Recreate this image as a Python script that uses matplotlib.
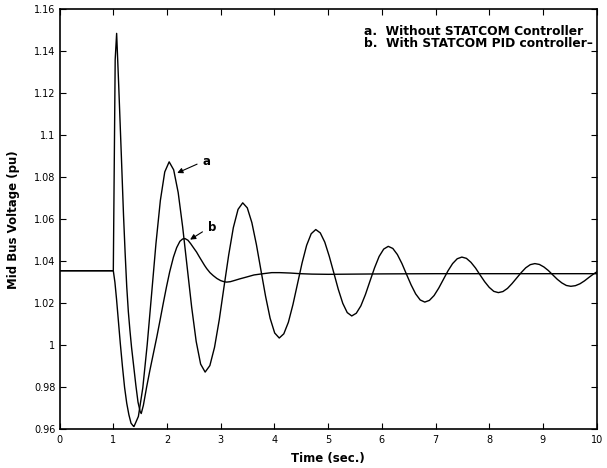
import matplotlib
matplotlib.use("Agg")
import matplotlib.pyplot as plt

plt.rcParams['font.family'] = ['DejaVu Sans']

# ---- data ----
# a. Without STATCOM Controller
t_a = [0.0, 1.0, 1.03, 1.06, 1.09, 1.13, 1.17, 1.21, 1.25, 1.29, 1.33, 1.37, 1.385,
       1.467, 1.549, 1.631, 1.713, 1.794, 1.876, 1.958, 2.04,
       2.124, 2.208, 2.291, 2.375, 2.459, 2.543, 2.626, 2.71,
       2.798, 2.885, 2.973, 3.06, 3.148, 3.235, 3.323, 3.41,
       3.495, 3.58, 3.665, 3.75, 3.835, 3.92, 4.005, 4.09,
       4.175, 4.26, 4.345, 4.43, 4.515, 4.60, 4.685, 4.77,
       4.854, 4.938, 5.021, 5.105, 5.189, 5.273, 5.356, 5.44,
       5.525, 5.61, 5.695, 5.78, 5.865, 5.95, 6.035, 6.12,
       6.205, 6.29, 6.375, 6.46, 6.545, 6.63, 6.715, 6.80,
       6.886, 6.973, 7.059, 7.145, 7.231, 7.318, 7.404, 7.49,
       7.575, 7.66, 7.745, 7.83, 7.915, 8.0, 8.085, 8.17,
       8.255, 8.34, 8.425, 8.51, 8.595, 8.68, 8.765, 8.85,
       8.934, 9.018, 9.101, 9.185, 9.269, 9.353, 9.436, 9.52,
       9.605, 9.69, 9.775, 9.86, 9.945, 10.0]
v_a = [1.0355, 1.0355, 1.030, 1.022, 1.013, 1.001, 0.990, 0.980, 0.9725, 0.967, 0.963, 0.9617, 0.9614,
       0.9662, 0.9798, 1.0003, 1.0244, 1.0484, 1.0689, 1.0825, 1.0873,
       1.0835, 1.0727, 1.0564, 1.0373, 1.0182, 1.0019, 0.9911, 0.9873,
       0.9904, 0.9991, 1.0122, 1.0276, 1.0429, 1.0560, 1.0647, 1.0678,
       1.0654, 1.0584, 1.0479, 1.0356, 1.0234, 1.0129, 1.0059, 1.0035,
       1.0055, 1.0110, 1.0194, 1.0293, 1.0392, 1.0476, 1.0531, 1.0551,
       1.0535, 1.0491, 1.0424, 1.0346, 1.0267, 1.0200, 1.0156, 1.0140,
       1.0153, 1.0188, 1.0242, 1.0306, 1.0369, 1.0423, 1.0458, 1.0471,
       1.0461, 1.0432, 1.0389, 1.0338, 1.0288, 1.0245, 1.0216, 1.0206,
       1.0214, 1.0237, 1.0272, 1.0313, 1.0354, 1.0389, 1.0412, 1.0420,
       1.0414, 1.0395, 1.0368, 1.0335, 1.0303, 1.0276, 1.0257, 1.0251,
       1.0256, 1.0271, 1.0294, 1.0320, 1.0346, 1.0369, 1.0384, 1.0389,
       1.0385, 1.0373, 1.0356, 1.0335, 1.0314, 1.0297, 1.0285, 1.0281,
       1.0284, 1.0293, 1.0307, 1.0324, 1.0340, 1.0349]

# b. With STATCOM PID controller
t_b = [0.0, 1.0, 1.035, 1.062, 1.10, 1.15, 1.19, 1.22, 1.25, 1.28, 1.31, 1.34, 1.38,
       1.42, 1.46, 1.50, 1.52, 1.56, 1.62, 1.68, 1.745, 1.81, 1.87, 1.93, 1.99,
       2.05, 2.12, 2.18, 2.24, 2.29, 2.335, 2.39, 2.44, 2.50, 2.55, 2.60, 2.65,
       2.70, 2.74, 2.80, 2.86, 2.93, 3.00, 3.06, 3.11, 3.18, 3.26, 3.35, 3.48,
       3.62, 3.79, 3.95, 4.10, 4.30, 4.48, 4.70, 5.0, 5.5, 6.0, 7.0, 8.0, 9.0, 10.0]
v_b = [1.0355, 1.0355, 1.136, 1.1484, 1.124, 1.090, 1.062, 1.044, 1.028, 1.016, 1.007, 0.999, 0.990,
       0.981, 0.973, 0.9685, 0.9676, 0.9715, 0.9801, 0.988, 0.996, 1.004, 1.0119, 1.020, 1.0278,
       1.035, 1.042, 1.0465, 1.0495, 1.0506, 1.0508, 1.0500, 1.0484, 1.0462, 1.0444, 1.0422, 1.0401,
       1.0380, 1.0365, 1.0346, 1.0332, 1.0318, 1.0308, 1.0303, 1.0301, 1.0303, 1.0309, 1.0316, 1.0325,
       1.0335, 1.0341, 1.0346, 1.0346, 1.0344, 1.0341, 1.0339, 1.0338, 1.0339, 1.0340, 1.0341, 1.0341, 1.0341, 1.0341]

x_ticks = [0, 1, 2, 3, 4, 5, 6, 7, 8, 9, 10]
y_ticks = [0.96, 0.98, 1.0, 1.02, 1.04, 1.06, 1.08, 1.10, 1.12, 1.14, 1.16]
y_tick_labels = ['0.96', '0.98', '1', '1.02', '1.04', '1.06', '1.08', '1.1', '1.12', '1.14', '1.16']
legend_lines = ['a.  Without STATCOM Controller', 'b.  With STATCOM PID controller\u2013']

# ---- figure ----
fig = plt.figure(figsize=(6.07, 4.68), dpi=100)
ax = fig.add_axes([0.0982, 0.0823, 0.8847, 0.8985])

ax.plot(t_a, v_a, color='black', lw=1.0)
ax.plot(t_b, v_b, color='black', lw=1.0)

ax.set_xlim(0, 10)
ax.set_ylim(0.96, 1.16)
ax.set_xticks(x_ticks)
ax.set_xticklabels([str(x) for x in x_ticks])
ax.set_yticks(y_ticks)
ax.set_yticklabels(y_tick_labels)
ax.tick_params(direction='in', length=4, width=0.8, top=True, right=True,
               labelsize=7, pad=3)
ax.tick_params(axis='x', pad=4)
for s in ax.spines.values():
    s.set_linewidth(1.2)

ax.set_xlabel('Time (sec.)', fontsize=8.5, fontweight='bold', labelpad=5)
ax.set_ylabel('Mid Bus Voltage (pu)', fontsize=8.5, fontweight='bold', labelpad=10)

# legend-like text (one two-line text block)
ax.text(0.566, 0.932, '\n'.join(legend_lines), transform=ax.transAxes, fontsize=8.8,
        fontweight='bold', va='center', ha='left', linespacing=0.87)

# curve labels with arrows
arrow_kw = dict(arrowstyle='-|>', color='black', lw=0.8, mutation_scale=8,
                shrinkA=0, shrinkB=0)
ax.annotate('', xy=(2.19, 1.082), xytext=(2.56, 1.0862), arrowprops=arrow_kw)
ax.text(2.74, 1.0876, 'a', fontsize=8.5, fontweight='bold', va='center', ha='center')
ax.annotate('', xy=(2.43, 1.0503), xytext=(2.66, 1.054), arrowprops=arrow_kw)
ax.text(2.84, 1.0563, 'b', fontsize=8.5, fontweight='bold', va='center', ha='center')

fig.savefig('out.png', dpi=100)
